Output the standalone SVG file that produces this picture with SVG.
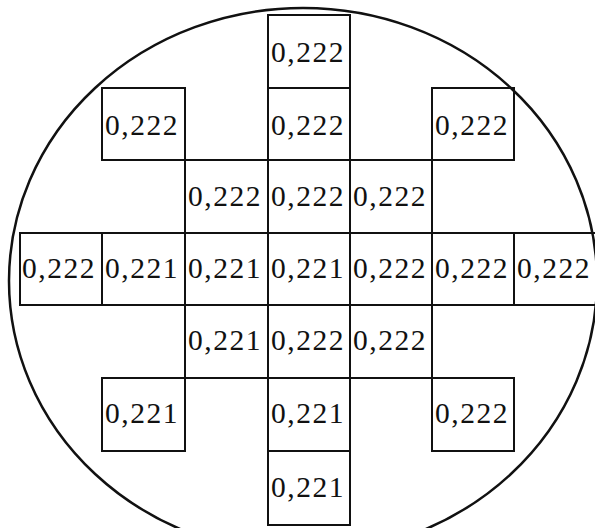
<svg xmlns="http://www.w3.org/2000/svg" width="595" height="528" viewBox="0 0 595 528">
<style>
.c rect{fill:none;stroke:#111;stroke-width:2}
.c text{font-family:"Liberation Serif","Times New Roman",serif;font-size:29.5px;letter-spacing:1.5px;fill:#111}
.w{fill:none;stroke:#111;stroke-width:2.5}
</style>
<rect width="595" height="528" fill="#fff"/>
<ellipse id="wafer" class="w" cx="303" cy="281" rx="294" ry="273"/>
<g id="r0c3" class="c"><rect x="268" y="15" width="82" height="73"/><text x="271" y="62">0,222</text></g>
<g id="r1c1" class="c"><rect x="102" y="88" width="83" height="72"/><text x="105" y="135">0,222</text></g>
<g id="r1c3" class="c"><rect x="268" y="88" width="82" height="72"/><text x="271" y="135">0,222</text></g>
<g id="r1c5" class="c"><rect x="432" y="88" width="82" height="72"/><text x="435" y="135">0,222</text></g>
<g id="r2c2" class="c"><rect x="185" y="160" width="83" height="73"/><text x="188" y="206">0,222</text></g>
<g id="r2c3" class="c"><rect x="268" y="160" width="82" height="73"/><text x="271" y="206">0,222</text></g>
<g id="r2c4" class="c"><rect x="350" y="160" width="82" height="73"/><text x="353" y="206">0,222</text></g>
<g id="r3c0" class="c"><rect x="20" y="233" width="82" height="72"/><text x="22" y="278">0,222</text></g>
<g id="r3c1" class="c"><rect x="102" y="233" width="83" height="72"/><text x="105" y="278">0,221</text></g>
<g id="r3c2" class="c"><rect x="185" y="233" width="83" height="72"/><text x="188" y="278">0,221</text></g>
<g id="r3c3" class="c"><rect x="268" y="233" width="82" height="72"/><text x="271" y="278">0,221</text></g>
<g id="r3c4" class="c"><rect x="350" y="233" width="82" height="72"/><text x="353" y="278">0,222</text></g>
<g id="r3c5" class="c"><rect x="432" y="233" width="82" height="72"/><text x="435" y="278">0,222</text></g>
<g id="r3c6" class="c"><rect x="514" y="233" width="82" height="72"/><text x="517" y="278">0,222</text></g>
<g id="r4c2" class="c"><rect x="185" y="305" width="83" height="73"/><text x="188" y="350">0,221</text></g>
<g id="r4c3" class="c"><rect x="268" y="305" width="82" height="73"/><text x="271" y="350">0,222</text></g>
<g id="r4c4" class="c"><rect x="350" y="305" width="82" height="73"/><text x="353" y="350">0,222</text></g>
<g id="r5c1" class="c"><rect x="102" y="378" width="83" height="73"/><text x="105" y="423">0,221</text></g>
<g id="r5c3" class="c"><rect x="268" y="378" width="82" height="73"/><text x="271" y="423">0,221</text></g>
<g id="r5c5" class="c"><rect x="432" y="378" width="82" height="73"/><text x="435" y="423">0,222</text></g>
<g id="r6c3" class="c"><rect x="268" y="451" width="82" height="74"/><text x="271" y="497">0,221</text></g>
<g id="connectors"/>
</svg>
